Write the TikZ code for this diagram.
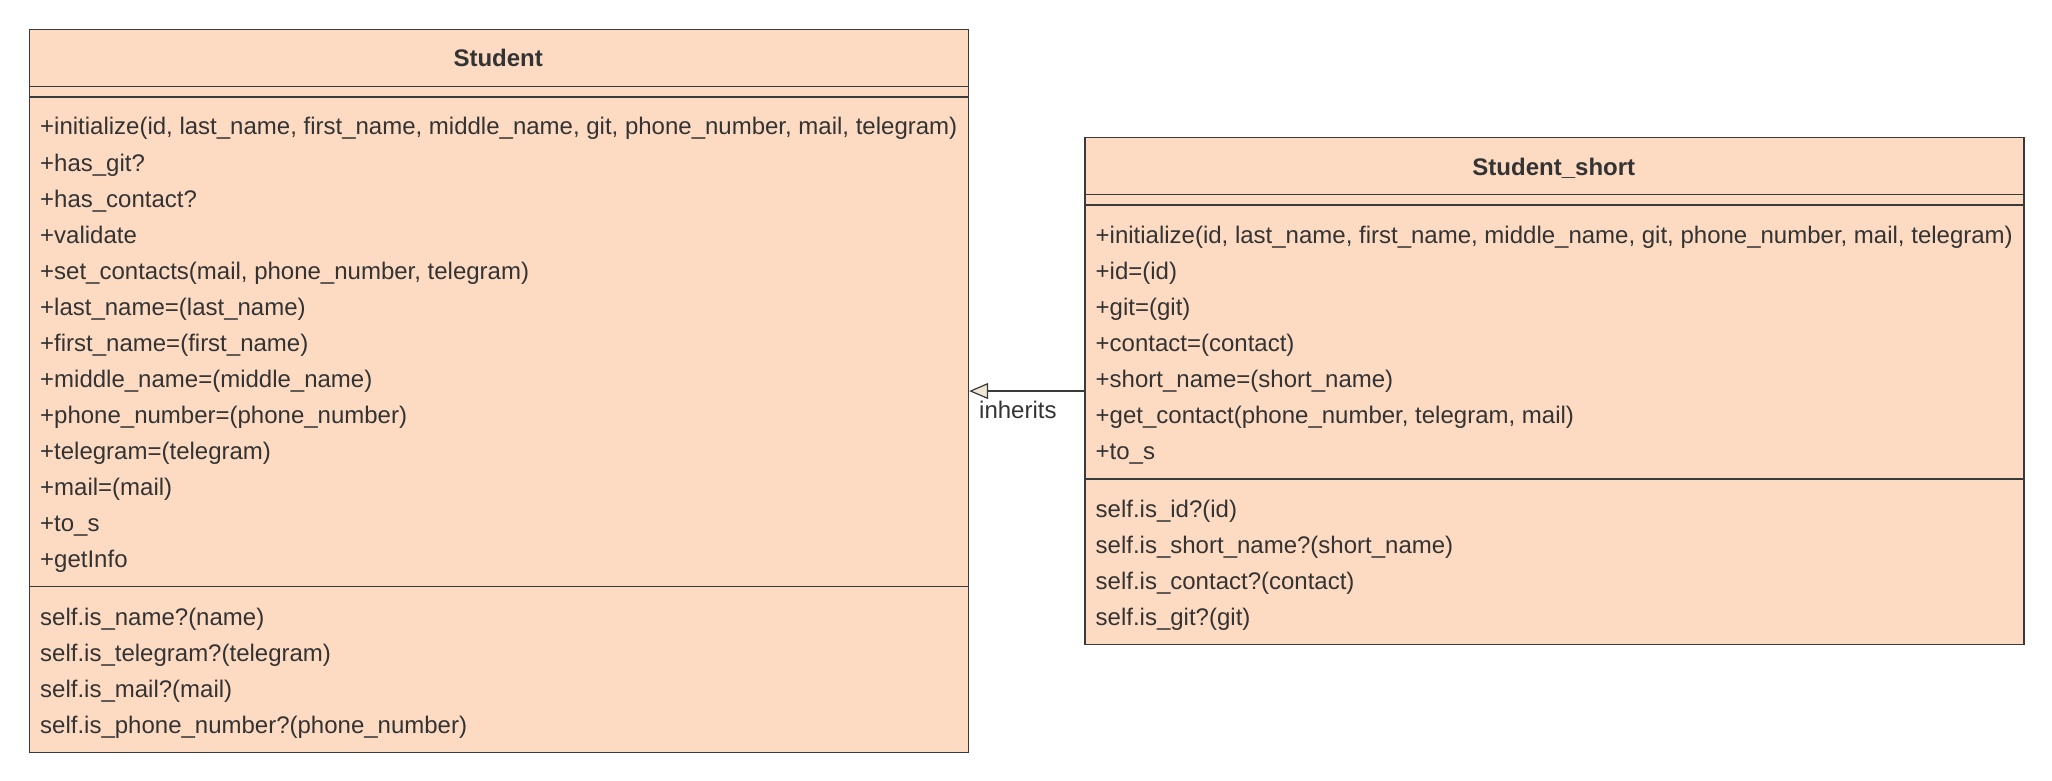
\documentclass[tikz,border=0pt]{standalone}
\usepackage{fontspec}
\setmainfont{Liberation Sans}
\usetikzlibrary{arrows.meta}
\definecolor{classfill}{HTML}{FDDBC3}
\definecolor{classline}{HTML}{3A3A3A}
\definecolor{txt}{HTML}{333333}
\definecolor{tipfill}{HTML}{EDE7D3}
\begin{document}
\begin{tikzpicture}[x=1pt,y=-1pt,
  classbox/.style={draw=classline, fill=classfill, line width=1.4pt, rectangle,
    inner sep=0pt, anchor=north west, minimum width=939pt},
  sepline/.style={draw=classline, line width=1.4pt},
  member/.style={anchor=base west, inner sep=0pt, text=txt,
    font=\fontsize{24}{28}\selectfont},
  classtitle/.style={anchor=base, inner sep=0pt, text=txt,
    font=\fontsize{24}{28}\selectfont\bfseries},
  inherit/.style={draw=classline, line width=1.4pt,
    -{Triangle[length=19pt,width=16pt,fill=tipfill,line width=1.2pt]}},
]
\useasboundingbox (0,0) rectangle (2052,781);

% ---- class Student ----
\node[classbox, minimum height=723pt] (student) at (28.7,28.7) {};
\node[classtitle] (studenttitle) at (498.2,67) {Student};
\draw[sepline] (28.7,86.3) -- (967.7,86.3);
\draw[sepline] (28.7,97) -- (967.7,97);
\foreach \t [count=\i from 0] in {
  {+initialize(id, last\_name, first\_name, middle\_name, git, phone\_number, mail, telegram)},
  {+has\_git?},
  {+has\_contact?},
  {+validate},
  {+set\_contacts(mail, phone\_number, telegram)},
  {+last\_name=(last\_name)},
  {+first\_name=(first\_name)},
  {+middle\_name=(middle\_name)},
  {+phone\_number=(phone\_number)},
  {+telegram=(telegram)},
  {+mail=(mail)},
  {+to\_s},
  {+getInfo}}
  \node[member] (sm\i) at (40,135+36*\i) {\t};
\draw[sepline] (28.7,586.7) -- (967.7,586.7);
\foreach \t [count=\i from 0] in {
  {self.is\_name?(name)},
  {self.is\_telegram?(telegram)},
  {self.is\_mail?(mail)},
  {self.is\_phone\_number?(phone\_number)}}
  \node[member] (ss\i) at (40,625+36*\i) {\t};

% ---- class Student_short ----
\node[classbox, minimum height=507.3pt] (short) at (1084.3,136.7) {};
\node[classtitle] (shorttitle) at (1553.8,175) {Student\_short};
\draw[sepline] (1084.3,194.3) -- (2023.3,194.3);
\draw[sepline] (1084.3,205) -- (2023.3,205);
\foreach \t [count=\i from 0] in {
  {+initialize(id, last\_name, first\_name, middle\_name, git, phone\_number, mail, telegram)},
  {+id=(id)},
  {+git=(git)},
  {+contact=(contact)},
  {+short\_name=(short\_name)},
  {+get\_contact(phone\_number, telegram, mail)},
  {+to\_s}}
  \node[member] (hm\i) at (1095.5,243+36*\i) {\t};
\draw[sepline] (1084.3,479) -- (2023.3,479);
\foreach \t [count=\i from 0] in {
  {self.is\_id?(id)},
  {self.is\_short\_name?(short\_name)},
  {self.is\_contact?(contact)},
  {self.is\_git?(git)}}
  \node[member] (hs\i) at (1095.5,517.3+36*\i) {\t};

% ---- generalisation ----
\draw[inherit] (short.west) -- (short.west -| student.east);
\node[member] (inheritlabel) at (979,418) {inherits};
\end{tikzpicture}
\end{document}
